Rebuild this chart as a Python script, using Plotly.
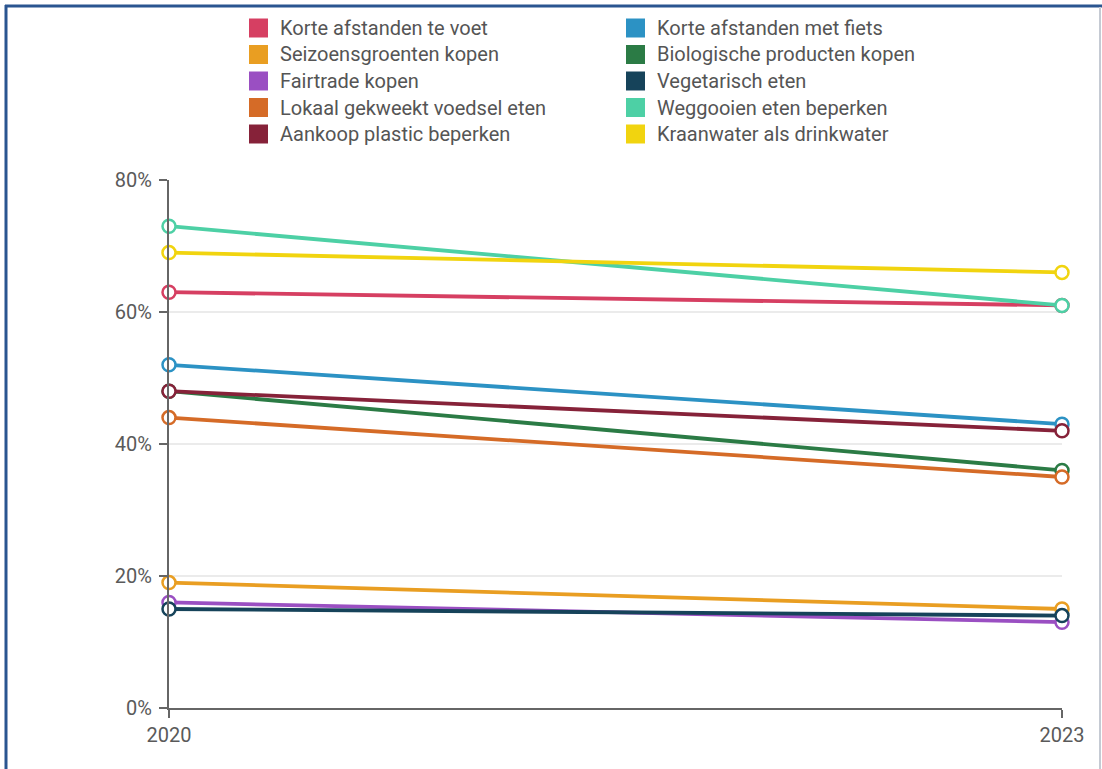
import plotly.graph_objects as go

years = [2020, 2023]
labels = [
    "Korte afstanden te voet",
    "Korte afstanden met fiets",
    "Seizoensgroenten kopen",
    "Biologische producten kopen",
    "Fairtrade kopen",
    "Vegetarisch eten",
    "Lokaal gekweekt voedsel eten",
    "Weggooien eten beperken",
    "Aankoop plastic beperken",
    "Kraanwater als drinkwater",
]
korte_voet = [63, 61]
korte_fiets = [52, 43]
seizoen = [19, 15]
biologisch = [48, 36]
fairtrade = [16, 13]
vegetarisch = [15, 14]
lokaal = [44, 35]
weggooien = [73, 61]
plastic = [48, 42]
kraanwater = [69, 66]
series = [korte_voet, korte_fiets, seizoen, biologisch, fairtrade,
          vegetarisch, lokaal, weggooien, plastic, kraanwater]
colors = ["#d63f62", "#2c92c4", "#e99e22", "#2b7b45", "#9a4fc2",
          "#16435a", "#d56b27", "#4dd0a5", "#862239", "#f1d40f"]
y_ticks = [0, 20, 40, 60, 80]
y_tick_text = [f"{v}%" for v in y_ticks]

W, H = 1102, 769
L, R, T, B = 169, 40, 180, 61
PW, PH = W - L - R, H - T - B


def px(x):
    return (x - L) / PW


def py(y):
    return (H - B - y) / PH


FONT = "Roboto"
fig = go.Figure()
for name, vals, col in zip(labels, series, colors):
    fig.add_trace(go.Scatter(
        x=years, y=vals, name=name, mode="lines+markers",
        line=dict(color=col, width=3.8),
        marker=dict(symbol="circle", size=13, color="white",
                    line=dict(color=col, width=2.5)),
        cliponaxis=False, showlegend=False, hoverinfo="skip",
    ))

shapes = []
annotations = []
row_y = [28, 54.5, 81, 107.5, 134]
col_swatch = [249, 626]
col_text = [278, 655]
sw, sh = 19, 19
for i, (name, col) in enumerate(zip(labels, colors)):
    r, c = divmod(i, 2)
    yc = row_y[r]
    shapes.append(dict(type="rect", xref="paper", yref="paper",
                       x0=px(col_swatch[c]), x1=px(col_swatch[c] + sw),
                       y0=py(yc - sh / 2), y1=py(yc + sh / 2),
                       fillcolor=col, line=dict(width=0)))
    annotations.append(dict(xref="paper", yref="paper", x=px(col_text[c]), y=py(yc),
                            xanchor="left", yanchor="middle", text=name, showarrow=False,
                            font=dict(family=FONT, size=20, color="#555555")))

# page frame
shapes.append(dict(type="line", xref="paper", yref="paper", x0=px(5), x1=px(1102),
                   y0=py(6), y1=py(6), line=dict(color="#2a5590", width=3)))
shapes.append(dict(type="line", xref="paper", yref="paper", x0=px(6), x1=px(6),
                   y0=py(5), y1=py(769), line=dict(color="#2a5590", width=3)))
shapes.append(dict(type="line", xref="paper", yref="paper", x0=px(1100), x1=px(1100),
                   y0=py(7), y1=py(769), line=dict(color="#c5cad3", width=2)))

fig.update_layout(
    width=W, height=H,
    margin=dict(l=L, r=R, t=T, b=B, pad=0),
    paper_bgcolor="white", plot_bgcolor="white",
    font=dict(family=FONT, size=20, color="#555555"),
    showlegend=False,
    shapes=shapes, annotations=annotations,
    xaxis=dict(range=[2020, 2023], tickvals=years, ticktext=[str(y) for y in years],
               showgrid=False, zeroline=False, showline=True, linecolor="#666666",
               linewidth=2, ticks="outside", ticklen=8, tickwidth=2, tickcolor="#666666",
               tickfont=dict(family=FONT, size=20, color="#5a5a5a")),
    yaxis=dict(range=[0, 80], tickvals=y_ticks, ticktext=y_tick_text,
               showgrid=True, gridcolor="#ebebeb", gridwidth=2, zeroline=False,
               showline=True, linecolor="#666666", linewidth=2, ticks="outside",
               ticklen=8, tickwidth=2, tickcolor="#666666", ticklabelstandoff=3,
               tickfont=dict(family=FONT, size=20, color="#5a5a5a")),
)
fig.write_html(
    "out.html",
    config={"displayModeBar": False},
    post_script="document.body.style.margin='0';document.body.style.overflow='hidden';",
)
